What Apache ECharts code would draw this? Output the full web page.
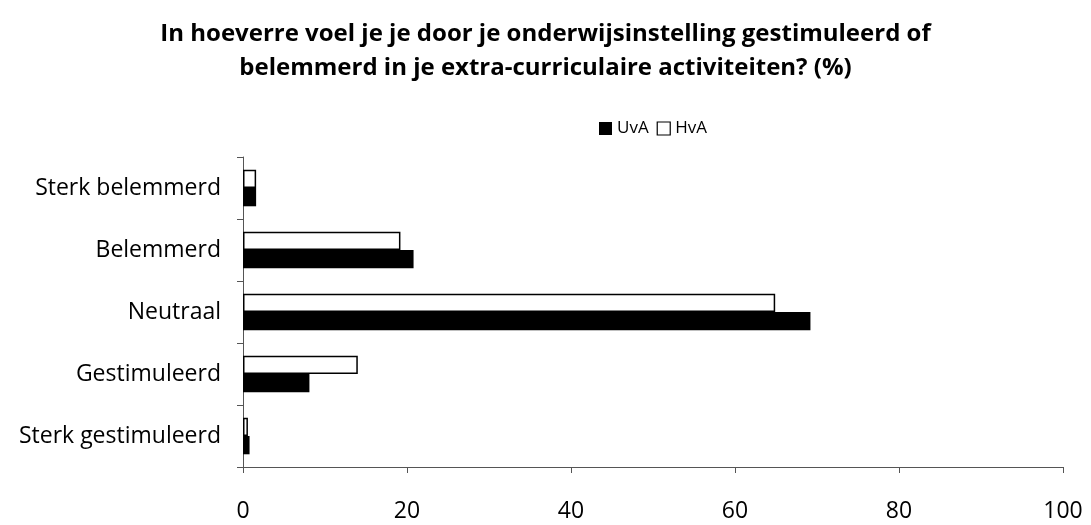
<!DOCTYPE html>
<html>
<head>
<meta charset="utf-8">
<script src="https://cdn.jsdelivr.net/npm/echarts@6/dist/echarts.min.js"></script>
<style>
  html, body { margin: 0; padding: 0; background: #ffffff; }
  #chart { width: 1091px; height: 525px; }
</style>
</head>
<body>
<div id="chart"></div>
<script>
// categories, bottom to top
const categories = ["Sterk gestimuleerd", "Gestimuleerd", "Neutraal", "Belemmerd", "Sterk belemmerd"];
const uva = [0.8, 8.1, 69.2, 20.8, 1.6];
const hva = [0.6, 14.0, 64.9, 19.2, 1.6];
const xTicks = [0, 20, 40, 60, 80, 100];

const titleText = "In hoeverre voel je je door je onderwijsinstelling gestimuleerd of\nbelemmerd in je extra-curriculaire activiteiten? (%)";
const fontName = "'Open Sans', 'Noto Sans', sans-serif";

let chart = echarts.init(document.getElementById("chart"));
let option = {
  animation: false,
  backgroundColor: "#ffffff",
  textStyle: { fontFamily: fontName },
  title: {
    text: titleText,
    left: "center",
    top: 12,
    textStyle: {
      fontFamily: fontName,
      fontSize: 24,
      fontWeight: "bold",
      color: "#000000",
      lineHeight: 34,
    },
  },
  legend: {
    data: ["UvA", "HvA"],
    left: 594,
    top: 115,
    icon: "rect",
    itemWidth: 13,
    itemHeight: 13,
    itemGap: 8,
    itemStyle: { borderWidth: 1.2 },
    textStyle: { fontSize: 17, color: "#000000", fontFamily: fontName },
  },
  grid: {
    left: 243,
    right: 28,
    top: 157,
    bottom: 58,
    outerBoundsMode: "none",
  },
  xAxis: {
    type: "value",
    min: xTicks[0],
    max: xTicks[xTicks.length - 1],
    interval: 20,
    splitLine: { show: false },
    axisLine: { show: true, lineStyle: { color: "#555555", width: 1 } },
    axisTick: { show: true, length: 6, lineStyle: { color: "#555555" } },
    axisLabel: { margin: 33, fontSize: 23, color: "#000000", fontFamily: fontName },
  },
  yAxis: {
    type: "category",
    data: categories,
    axisLine: { show: true, lineStyle: { color: "#555555", width: 1 } },
    axisTick: { show: true, length: 6, lineStyle: { color: "#555555" } },
    axisLabel: { margin: 22, fontSize: 23, color: "#000000", fontFamily: fontName },
  },
  series: [
    {
      name: "HvA",
      type: "bar",
      data: hva,
      barGap: "0%",
      barCategoryGap: "41%",
      itemStyle: { color: "#ffffff", borderColor: "#000000", borderWidth: 1.5 },
    },
    {
      name: "UvA",
      type: "bar",
      data: uva,
      barGap: "0%",
      barCategoryGap: "41%",
      itemStyle: { color: "#000000" },
    },
  ],
};
chart.setOption(option);
</script>
</body>
</html>
